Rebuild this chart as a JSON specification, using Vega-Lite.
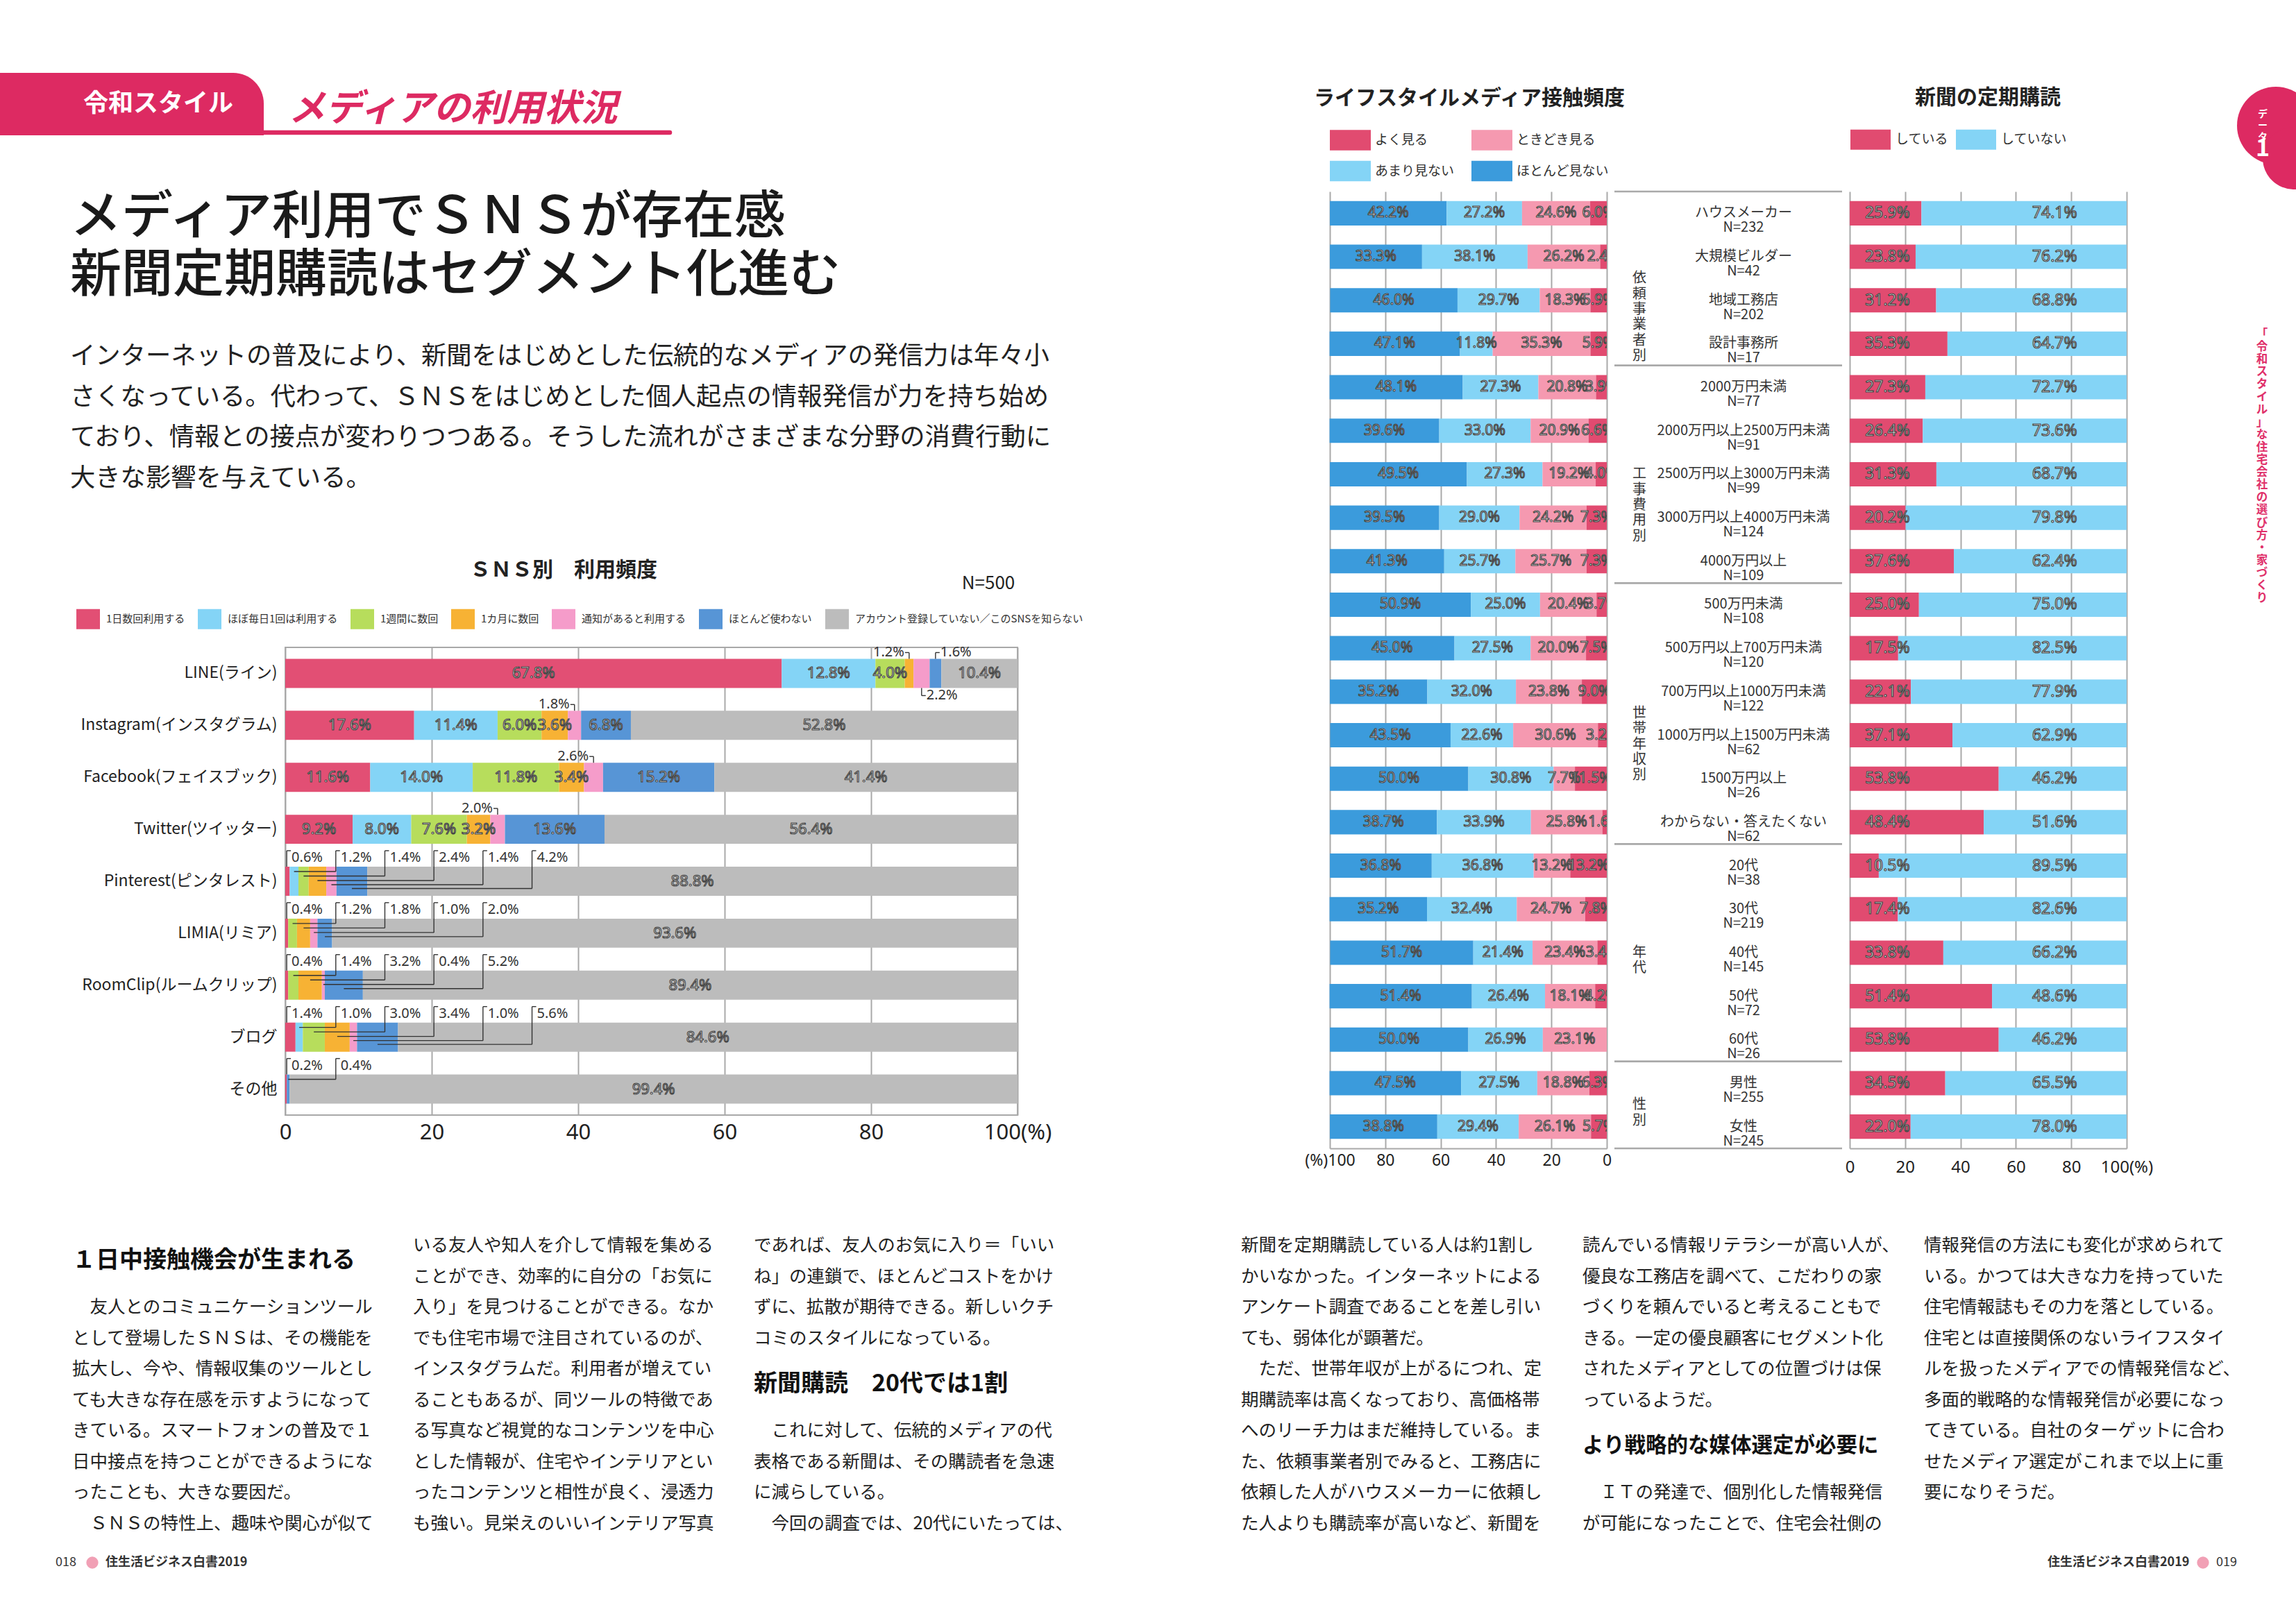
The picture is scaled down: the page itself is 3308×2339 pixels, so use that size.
{
"$schema": "https://vega.github.io/schema/vega-lite/v6.json",
"background": "white",
"padding": 0,
"autosize": {"type": "pad"},
"bounds": "flush",
"spacing": 0,
"resolve": {"scale": {"color": "independent"}, "legend": {"color": "independent"}},
"config": {
  "view": {"stroke": null},
  "font": "Noto Sans CJK JP",
  "text": {"baseline": "middle"}
},
"datasets": {
  "sns": [
    {"sns":"LINE(ライン)","cat":"1日数回利用する","value":67.8},{"sns":"LINE(ライン)","cat":"ほぼ毎日1回は利用する","value":12.8},{"sns":"LINE(ライン)","cat":"1週間に数回","value":4.0},{"sns":"LINE(ライン)","cat":"1カ月に数回","value":1.2},{"sns":"LINE(ライン)","cat":"通知があると利用する","value":2.2},{"sns":"LINE(ライン)","cat":"ほとんど使わない","value":1.6},{"sns":"LINE(ライン)","cat":"アカウント登録していない／このSNSを知らない","value":10.4},
    {"sns":"Instagram(インスタグラム)","cat":"1日数回利用する","value":17.6},{"sns":"Instagram(インスタグラム)","cat":"ほぼ毎日1回は利用する","value":11.4},{"sns":"Instagram(インスタグラム)","cat":"1週間に数回","value":6.0},{"sns":"Instagram(インスタグラム)","cat":"1カ月に数回","value":3.6},{"sns":"Instagram(インスタグラム)","cat":"通知があると利用する","value":1.8},{"sns":"Instagram(インスタグラム)","cat":"ほとんど使わない","value":6.8},{"sns":"Instagram(インスタグラム)","cat":"アカウント登録していない／このSNSを知らない","value":52.8},
    {"sns":"Facebook(フェイスブック)","cat":"1日数回利用する","value":11.6},{"sns":"Facebook(フェイスブック)","cat":"ほぼ毎日1回は利用する","value":14.0},{"sns":"Facebook(フェイスブック)","cat":"1週間に数回","value":11.8},{"sns":"Facebook(フェイスブック)","cat":"1カ月に数回","value":3.4},{"sns":"Facebook(フェイスブック)","cat":"通知があると利用する","value":2.6},{"sns":"Facebook(フェイスブック)","cat":"ほとんど使わない","value":15.2},{"sns":"Facebook(フェイスブック)","cat":"アカウント登録していない／このSNSを知らない","value":41.4},
    {"sns":"Twitter(ツイッター)","cat":"1日数回利用する","value":9.2},{"sns":"Twitter(ツイッター)","cat":"ほぼ毎日1回は利用する","value":8.0},{"sns":"Twitter(ツイッター)","cat":"1週間に数回","value":7.6},{"sns":"Twitter(ツイッター)","cat":"1カ月に数回","value":3.2},{"sns":"Twitter(ツイッター)","cat":"通知があると利用する","value":2.0},{"sns":"Twitter(ツイッター)","cat":"ほとんど使わない","value":13.6},{"sns":"Twitter(ツイッター)","cat":"アカウント登録していない／このSNSを知らない","value":56.4},
    {"sns":"Pinterest(ピンタレスト)","cat":"1日数回利用する","value":0.6},{"sns":"Pinterest(ピンタレスト)","cat":"ほぼ毎日1回は利用する","value":1.2},{"sns":"Pinterest(ピンタレスト)","cat":"1週間に数回","value":1.4},{"sns":"Pinterest(ピンタレスト)","cat":"1カ月に数回","value":2.4},{"sns":"Pinterest(ピンタレスト)","cat":"通知があると利用する","value":1.4},{"sns":"Pinterest(ピンタレスト)","cat":"ほとんど使わない","value":4.2},{"sns":"Pinterest(ピンタレスト)","cat":"アカウント登録していない／このSNSを知らない","value":88.8},
    {"sns":"LIMIA(リミア)","cat":"1日数回利用する","value":0.4},{"sns":"LIMIA(リミア)","cat":"ほぼ毎日1回は利用する","value":0},{"sns":"LIMIA(リミア)","cat":"1週間に数回","value":1.2},{"sns":"LIMIA(リミア)","cat":"1カ月に数回","value":1.8},{"sns":"LIMIA(リミア)","cat":"通知があると利用する","value":1.0},{"sns":"LIMIA(リミア)","cat":"ほとんど使わない","value":2.0},{"sns":"LIMIA(リミア)","cat":"アカウント登録していない／このSNSを知らない","value":93.6},
    {"sns":"RoomClip(ルームクリップ)","cat":"1日数回利用する","value":0.4},{"sns":"RoomClip(ルームクリップ)","cat":"ほぼ毎日1回は利用する","value":0},{"sns":"RoomClip(ルームクリップ)","cat":"1週間に数回","value":1.4},{"sns":"RoomClip(ルームクリップ)","cat":"1カ月に数回","value":3.2},{"sns":"RoomClip(ルームクリップ)","cat":"通知があると利用する","value":0.4},{"sns":"RoomClip(ルームクリップ)","cat":"ほとんど使わない","value":5.2},{"sns":"RoomClip(ルームクリップ)","cat":"アカウント登録していない／このSNSを知らない","value":89.4},
    {"sns":"ブログ","cat":"1日数回利用する","value":1.4},{"sns":"ブログ","cat":"ほぼ毎日1回は利用する","value":1.0},{"sns":"ブログ","cat":"1週間に数回","value":3.0},{"sns":"ブログ","cat":"1カ月に数回","value":3.4},{"sns":"ブログ","cat":"通知があると利用する","value":1.0},{"sns":"ブログ","cat":"ほとんど使わない","value":5.6},{"sns":"ブログ","cat":"アカウント登録していない／このSNSを知らない","value":84.6},
    {"sns":"その他","cat":"1日数回利用する","value":0.2},{"sns":"その他","cat":"ほぼ毎日1回は利用する","value":0},{"sns":"その他","cat":"1週間に数回","value":0},{"sns":"その他","cat":"1カ月に数回","value":0},{"sns":"その他","cat":"通知があると利用する","value":0},{"sns":"その他","cat":"ほとんど使わない","value":0.4},{"sns":"その他","cat":"アカウント登録していない／このSNSを知らない","value":99.4}
  ],
  "life": [
    {"seg":"ハウスメーカー","cat":"ほとんど見ない","value":42.2},{"seg":"ハウスメーカー","cat":"あまり見ない","value":27.2},{"seg":"ハウスメーカー","cat":"ときどき見る","value":24.6},{"seg":"ハウスメーカー","cat":"よく見る","value":6.0},
    {"seg":"大規模ビルダー","cat":"ほとんど見ない","value":33.3},{"seg":"大規模ビルダー","cat":"あまり見ない","value":38.1},{"seg":"大規模ビルダー","cat":"ときどき見る","value":26.2},{"seg":"大規模ビルダー","cat":"よく見る","value":2.4},
    {"seg":"地域工務店","cat":"ほとんど見ない","value":46.0},{"seg":"地域工務店","cat":"あまり見ない","value":29.7},{"seg":"地域工務店","cat":"ときどき見る","value":18.3},{"seg":"地域工務店","cat":"よく見る","value":5.9},
    {"seg":"設計事務所","cat":"ほとんど見ない","value":47.1},{"seg":"設計事務所","cat":"あまり見ない","value":11.8},{"seg":"設計事務所","cat":"ときどき見る","value":35.3},{"seg":"設計事務所","cat":"よく見る","value":5.9},
    {"seg":"2000万円未満","cat":"ほとんど見ない","value":48.1},{"seg":"2000万円未満","cat":"あまり見ない","value":27.3},{"seg":"2000万円未満","cat":"ときどき見る","value":20.8},{"seg":"2000万円未満","cat":"よく見る","value":3.9},
    {"seg":"2000万円以上2500万円未満","cat":"ほとんど見ない","value":39.6},{"seg":"2000万円以上2500万円未満","cat":"あまり見ない","value":33.0},{"seg":"2000万円以上2500万円未満","cat":"ときどき見る","value":20.9},{"seg":"2000万円以上2500万円未満","cat":"よく見る","value":6.6},
    {"seg":"2500万円以上3000万円未満","cat":"ほとんど見ない","value":49.5},{"seg":"2500万円以上3000万円未満","cat":"あまり見ない","value":27.3},{"seg":"2500万円以上3000万円未満","cat":"ときどき見る","value":19.2},{"seg":"2500万円以上3000万円未満","cat":"よく見る","value":4.0},
    {"seg":"3000万円以上4000万円未満","cat":"ほとんど見ない","value":39.5},{"seg":"3000万円以上4000万円未満","cat":"あまり見ない","value":29.0},{"seg":"3000万円以上4000万円未満","cat":"ときどき見る","value":24.2},{"seg":"3000万円以上4000万円未満","cat":"よく見る","value":7.3},
    {"seg":"4000万円以上","cat":"ほとんど見ない","value":41.3},{"seg":"4000万円以上","cat":"あまり見ない","value":25.7},{"seg":"4000万円以上","cat":"ときどき見る","value":25.7},{"seg":"4000万円以上","cat":"よく見る","value":7.3},
    {"seg":"500万円未満","cat":"ほとんど見ない","value":50.9},{"seg":"500万円未満","cat":"あまり見ない","value":25.0},{"seg":"500万円未満","cat":"ときどき見る","value":20.4},{"seg":"500万円未満","cat":"よく見る","value":3.7},
    {"seg":"500万円以上700万円未満","cat":"ほとんど見ない","value":45.0},{"seg":"500万円以上700万円未満","cat":"あまり見ない","value":27.5},{"seg":"500万円以上700万円未満","cat":"ときどき見る","value":20.0},{"seg":"500万円以上700万円未満","cat":"よく見る","value":7.5},
    {"seg":"700万円以上1000万円未満","cat":"ほとんど見ない","value":35.2},{"seg":"700万円以上1000万円未満","cat":"あまり見ない","value":32.0},{"seg":"700万円以上1000万円未満","cat":"ときどき見る","value":23.8},{"seg":"700万円以上1000万円未満","cat":"よく見る","value":9.0},
    {"seg":"1000万円以上1500万円未満","cat":"ほとんど見ない","value":43.5},{"seg":"1000万円以上1500万円未満","cat":"あまり見ない","value":22.6},{"seg":"1000万円以上1500万円未満","cat":"ときどき見る","value":30.6},{"seg":"1000万円以上1500万円未満","cat":"よく見る","value":3.2},
    {"seg":"1500万円以上","cat":"ほとんど見ない","value":50.0},{"seg":"1500万円以上","cat":"あまり見ない","value":30.8},{"seg":"1500万円以上","cat":"ときどき見る","value":7.7},{"seg":"1500万円以上","cat":"よく見る","value":11.5},
    {"seg":"わからない・答えたくない","cat":"ほとんど見ない","value":38.7},{"seg":"わからない・答えたくない","cat":"あまり見ない","value":33.9},{"seg":"わからない・答えたくない","cat":"ときどき見る","value":25.8},{"seg":"わからない・答えたくない","cat":"よく見る","value":1.6},
    {"seg":"20代","cat":"ほとんど見ない","value":36.8},{"seg":"20代","cat":"あまり見ない","value":36.8},{"seg":"20代","cat":"ときどき見る","value":13.2},{"seg":"20代","cat":"よく見る","value":13.2},
    {"seg":"30代","cat":"ほとんど見ない","value":35.2},{"seg":"30代","cat":"あまり見ない","value":32.4},{"seg":"30代","cat":"ときどき見る","value":24.7},{"seg":"30代","cat":"よく見る","value":7.8},
    {"seg":"40代","cat":"ほとんど見ない","value":51.7},{"seg":"40代","cat":"あまり見ない","value":21.4},{"seg":"40代","cat":"ときどき見る","value":23.4},{"seg":"40代","cat":"よく見る","value":3.4},
    {"seg":"50代","cat":"ほとんど見ない","value":51.4},{"seg":"50代","cat":"あまり見ない","value":26.4},{"seg":"50代","cat":"ときどき見る","value":18.1},{"seg":"50代","cat":"よく見る","value":4.2},
    {"seg":"60代","cat":"ほとんど見ない","value":50.0},{"seg":"60代","cat":"あまり見ない","value":26.9},{"seg":"60代","cat":"ときどき見る","value":23.1},{"seg":"60代","cat":"よく見る","value":0},
    {"seg":"男性","cat":"ほとんど見ない","value":47.5},{"seg":"男性","cat":"あまり見ない","value":27.5},{"seg":"男性","cat":"ときどき見る","value":18.8},{"seg":"男性","cat":"よく見る","value":6.3},
    {"seg":"女性","cat":"ほとんど見ない","value":38.8},{"seg":"女性","cat":"あまり見ない","value":29.4},{"seg":"女性","cat":"ときどき見る","value":26.1},{"seg":"女性","cat":"よく見る","value":5.7}
  ],
  "segs": [
    {"group":"依頼事業者別","seg":"ハウスメーカー","n":232},{"group":"依頼事業者別","seg":"大規模ビルダー","n":42},{"group":"依頼事業者別","seg":"地域工務店","n":202},{"group":"依頼事業者別","seg":"設計事務所","n":17},
    {"group":"工事費用別","seg":"2000万円未満","n":77},{"group":"工事費用別","seg":"2000万円以上2500万円未満","n":91},{"group":"工事費用別","seg":"2500万円以上3000万円未満","n":99},{"group":"工事費用別","seg":"3000万円以上4000万円未満","n":124},{"group":"工事費用別","seg":"4000万円以上","n":109},
    {"group":"世帯年収別","seg":"500万円未満","n":108},{"group":"世帯年収別","seg":"500万円以上700万円未満","n":120},{"group":"世帯年収別","seg":"700万円以上1000万円未満","n":122},{"group":"世帯年収別","seg":"1000万円以上1500万円未満","n":62},{"group":"世帯年収別","seg":"1500万円以上","n":26},{"group":"世帯年収別","seg":"わからない・答えたくない","n":62},
    {"group":"年代","seg":"20代","n":38},{"group":"年代","seg":"30代","n":219},{"group":"年代","seg":"40代","n":145},{"group":"年代","seg":"50代","n":72},{"group":"年代","seg":"60代","n":26},
    {"group":"性別","seg":"男性","n":255},{"group":"性別","seg":"女性","n":245}
  ],
  "paper": [
    {"seg":"ハウスメーカー","cat":"している","value":25.9},{"seg":"ハウスメーカー","cat":"していない","value":74.1},
    {"seg":"大規模ビルダー","cat":"している","value":23.8},{"seg":"大規模ビルダー","cat":"していない","value":76.2},
    {"seg":"地域工務店","cat":"している","value":31.2},{"seg":"地域工務店","cat":"していない","value":68.8},
    {"seg":"設計事務所","cat":"している","value":35.3},{"seg":"設計事務所","cat":"していない","value":64.7},
    {"seg":"2000万円未満","cat":"している","value":27.3},{"seg":"2000万円未満","cat":"していない","value":72.7},
    {"seg":"2000万円以上2500万円未満","cat":"している","value":26.4},{"seg":"2000万円以上2500万円未満","cat":"していない","value":73.6},
    {"seg":"2500万円以上3000万円未満","cat":"している","value":31.3},{"seg":"2500万円以上3000万円未満","cat":"していない","value":68.7},
    {"seg":"3000万円以上4000万円未満","cat":"している","value":20.2},{"seg":"3000万円以上4000万円未満","cat":"していない","value":79.8},
    {"seg":"4000万円以上","cat":"している","value":37.6},{"seg":"4000万円以上","cat":"していない","value":62.4},
    {"seg":"500万円未満","cat":"している","value":25.0},{"seg":"500万円未満","cat":"していない","value":75.0},
    {"seg":"500万円以上700万円未満","cat":"している","value":17.5},{"seg":"500万円以上700万円未満","cat":"していない","value":82.5},
    {"seg":"700万円以上1000万円未満","cat":"している","value":22.1},{"seg":"700万円以上1000万円未満","cat":"していない","value":77.9},
    {"seg":"1000万円以上1500万円未満","cat":"している","value":37.1},{"seg":"1000万円以上1500万円未満","cat":"していない","value":62.9},
    {"seg":"1500万円以上","cat":"している","value":53.8},{"seg":"1500万円以上","cat":"していない","value":46.2},
    {"seg":"わからない・答えたくない","cat":"している","value":48.4},{"seg":"わからない・答えたくない","cat":"していない","value":51.6},
    {"seg":"20代","cat":"している","value":10.5},{"seg":"20代","cat":"していない","value":89.5},
    {"seg":"30代","cat":"している","value":17.4},{"seg":"30代","cat":"していない","value":82.6},
    {"seg":"40代","cat":"している","value":33.8},{"seg":"40代","cat":"していない","value":66.2},
    {"seg":"50代","cat":"している","value":51.4},{"seg":"50代","cat":"していない","value":48.6},
    {"seg":"60代","cat":"している","value":53.8},{"seg":"60代","cat":"していない","value":46.2},
    {"seg":"男性","cat":"している","value":34.5},{"seg":"男性","cat":"していない","value":65.5},
    {"seg":"女性","cat":"している","value":22.0},{"seg":"女性","cat":"していない","value":78.0}
  ],
  "bodyL": [
    {"col":1,"line":0,"kind":"h","text":"１日中接触機会が生まれる"},
    {"col":1,"line":2,"kind":"p","text":"\u200b　友人とのコミュニケーションツール"},
    {"col":1,"line":3,"kind":"p","text":"として登場したＳＮＳは、その機能を"},
    {"col":1,"line":4,"kind":"p","text":"拡大し、今や、情報収集のツールとし"},
    {"col":1,"line":5,"kind":"p","text":"ても大きな存在感を示すようになって"},
    {"col":1,"line":6,"kind":"p","text":"きている。スマートフォンの普及で１"},
    {"col":1,"line":7,"kind":"p","text":"日中接点を持つことができるようにな"},
    {"col":1,"line":8,"kind":"p","text":"ったことも、大きな要因だ。"},
    {"col":1,"line":9,"kind":"p","text":"\u200b　ＳＮＳの特性上、趣味や関心が似て"},
    {"col":2,"line":0,"kind":"p","text":"いる友人や知人を介して情報を集める"},
    {"col":2,"line":1,"kind":"p","text":"ことができ、効率的に自分の「お気に"},
    {"col":2,"line":2,"kind":"p","text":"入り」を見つけることができる。なか"},
    {"col":2,"line":3,"kind":"p","text":"でも住宅市場で注目されているのが、"},
    {"col":2,"line":4,"kind":"p","text":"インスタグラムだ。利用者が増えてい"},
    {"col":2,"line":5,"kind":"p","text":"ることもあるが、同ツールの特徴であ"},
    {"col":2,"line":6,"kind":"p","text":"る写真など視覚的なコンテンツを中心"},
    {"col":2,"line":7,"kind":"p","text":"とした情報が、住宅やインテリアとい"},
    {"col":2,"line":8,"kind":"p","text":"ったコンテンツと相性が良く、浸透力"},
    {"col":2,"line":9,"kind":"p","text":"も強い。見栄えのいいインテリア写真"},
    {"col":3,"line":0,"kind":"p","text":"であれば、友人のお気に入り＝「いい"},
    {"col":3,"line":1,"kind":"p","text":"ね」の連鎖で、ほとんどコストをかけ"},
    {"col":3,"line":2,"kind":"p","text":"ずに、拡散が期待できる。新しいクチ"},
    {"col":3,"line":3,"kind":"p","text":"コミのスタイルになっている。"},
    {"col":3,"line":4,"kind":"h","text":"新聞購読　20代では1割"},
    {"col":3,"line":6,"kind":"p","text":"\u200b　これに対して、伝統的メディアの代"},
    {"col":3,"line":7,"kind":"p","text":"表格である新聞は、その購読者を急速"},
    {"col":3,"line":8,"kind":"p","text":"に減らしている。"},
    {"col":3,"line":9,"kind":"p","text":"\u200b　今回の調査では、20代にいたっては、"}
  ],
  "bodyR": [
    {"col":1,"line":0,"kind":"p","text":"新聞を定期購読している人は約1割し"},
    {"col":1,"line":1,"kind":"p","text":"かいなかった。インターネットによる"},
    {"col":1,"line":2,"kind":"p","text":"アンケート調査であることを差し引い"},
    {"col":1,"line":3,"kind":"p","text":"ても、弱体化が顕著だ。"},
    {"col":1,"line":4,"kind":"p","text":"\u200b　ただ、世帯年収が上がるにつれ、定"},
    {"col":1,"line":5,"kind":"p","text":"期購読率は高くなっており、高価格帯"},
    {"col":1,"line":6,"kind":"p","text":"へのリーチ力はまだ維持している。ま"},
    {"col":1,"line":7,"kind":"p","text":"た、依頼事業者別でみると、工務店に"},
    {"col":1,"line":8,"kind":"p","text":"依頼した人がハウスメーカーに依頼し"},
    {"col":1,"line":9,"kind":"p","text":"た人よりも購読率が高いなど、新聞を"},
    {"col":2,"line":0,"kind":"p","text":"読んでいる情報リテラシーが高い人が、"},
    {"col":2,"line":1,"kind":"p","text":"優良な工務店を調べて、こだわりの家"},
    {"col":2,"line":2,"kind":"p","text":"づくりを頼んでいると考えることもで"},
    {"col":2,"line":3,"kind":"p","text":"きる。一定の優良顧客にセグメント化"},
    {"col":2,"line":4,"kind":"p","text":"されたメディアとしての位置づけは保"},
    {"col":2,"line":5,"kind":"p","text":"っているようだ。"},
    {"col":2,"line":6,"kind":"h","text":"より戦略的な媒体選定が必要に"},
    {"col":2,"line":8,"kind":"p","text":"\u200b　ＩＴの発達で、個別化した情報発信"},
    {"col":2,"line":9,"kind":"p","text":"が可能になったことで、住宅会社側の"},
    {"col":3,"line":0,"kind":"p","text":"情報発信の方法にも変化が求められて"},
    {"col":3,"line":1,"kind":"p","text":"いる。かつては大きな力を持っていた"},
    {"col":3,"line":2,"kind":"p","text":"住宅情報誌もその力を落としている。"},
    {"col":3,"line":3,"kind":"p","text":"住宅とは直接関係のないライフスタイ"},
    {"col":3,"line":4,"kind":"p","text":"ルを扱ったメディアでの情報発信など、"},
    {"col":3,"line":5,"kind":"p","text":"多面的戦略的な情報発信が必要になっ"},
    {"col":3,"line":6,"kind":"p","text":"てきている。自社のターゲットに合わ"},
    {"col":3,"line":7,"kind":"p","text":"せたメディア選定がこれまで以上に重"},
    {"col":3,"line":8,"kind":"p","text":"要になりそうだ。"}
  ]
},
"hconcat": [
  {"bounds":"flush","spacing":0,"vconcat":[
    {"width":1,"height":105,"data":{"values":[]},"mark":"point","encoding":{}},
    {"width":380,"height":90,"data":{"values":[{"t":"令和スタイル"}]},"layer":[
      {"mark":{"type":"rect","color":"#dd2a62","cornerRadiusTopRight":44},"encoding":{}},
      {"mark":{"type":"text","color":"white","fontSize":36,"fontWeight":"bold","dx":38},"encoding":{"text":{"field":"t"}}}
    ]}
  ]},
  {"bounds":"flush","spacing":0,"vconcat":[
    {"width":1,"height":105,"data":{"values":[]},"mark":"point","encoding":{}},
    {"bounds":"flush","spacing":0,"hconcat":[
      {"width":380,"height":1,"data":{"values":[]},"mark":"point","encoding":{}},
      {"width":585,"height":86,"data":{"values":[{"t":"メディアの利用状況"}]},"layer":[
        {"mark":{"type":"rule","color":"#dd2a62","strokeWidth":6.5,"strokeCap":"round"},"encoding":{"y":{"datum":0,"type":"quantitative","scale":{"domain":[0,1]},"axis":null}}},
        {"mark":{"type":"text","color":"#dd2a62","fontSize":53,"fontWeight":"bold","fontStyle":"italic","dx":-20,"dy":10},"encoding":{"text":{"field":"t"}}}
      ]}
    ]}
  ]},
  {"bounds":"flush","spacing":0,"vconcat":[
    {"width":1,"height":272,"data":{"values":[]},"mark":"point","encoding":{}},
    {"bounds":"flush","spacing":0,"hconcat":[
      {"width":100,"height":1,"data":{"values":[]},"mark":"point","encoding":{}},
      {"width":2,"height":168,"data":{"values":[{"line":1,"text":"メディア利用でＳＮＳが存在感"},{"line":2,"text":"新聞定期購読はセグメント化進む"}]},
       "mark":{"type":"text","align":"left","fontSize":74,"fontWeight":500,"color":"#1a1a1a"},
       "encoding":{"y":{"field":"line","type":"ordinal","axis":null},"text":{"field":"text"}}}
    ]}
  ]},
  {"bounds":"flush","spacing":0,"vconcat":[
    {"width":1,"height":485,"data":{"values":[]},"mark":"point","encoding":{}},
    {"bounds":"flush","spacing":0,"hconcat":[
      {"width":100,"height":1,"data":{"values":[]},"mark":"point","encoding":{}},
      {"width":2,"height":234,"data":{"values":[
        {"line":1,"text":"インターネットの普及により、新聞をはじめとした伝統的なメディアの発信力は年々小"},
        {"line":2,"text":"さくなっている。代わって、ＳＮＳをはじめとした個人起点の情報発信が力を持ち始め"},
        {"line":3,"text":"ており、情報との接点が変わりつつある。そうした流れがさまざまな分野の消費行動に"},
        {"line":4,"text":"大きな影響を与えている。"}]},
       "mark":{"type":"text","align":"left","fontSize":36.3,"color":"#222"},
       "encoding":{"y":{"field":"line","type":"ordinal","axis":null},"text":{"field":"text"}}}
    ]}
  ]},
  {"bounds":"flush","spacing":0,"vconcat":[
    {"width":1,"height":821,"data":{"values":[]},"mark":"point","encoding":{}},
    {"bounds":"flush","spacing":0,"hconcat":[
      {"width":811,"height":1,"data":{"values":[]},"mark":"point","encoding":{}},
      {"width":2,"height":2,"data":{"values":[{"t":"ＳＮＳ別　利用頻度"}]},"mark":{"type":"text","fontSize":30,"fontWeight":"bold","color":"#222"},"encoding":{"text":{"field":"t"}}}
    ]}
  ]},
  {"bounds":"flush","spacing":0,"vconcat":[
    {"width":1,"height":840,"data":{"values":[]},"mark":"point","encoding":{}},
    {"bounds":"flush","spacing":0,"hconcat":[
      {"width":1423,"height":1,"data":{"values":[]},"mark":"point","encoding":{}},
      {"width":2,"height":2,"data":{"values":[{"t":"N=500"}]},"mark":{"type":"text","fontSize":26,"color":"#222"},"encoding":{"text":{"field":"t"}}}
    ]}
  ]},
  {"bounds":"flush","spacing":0,"resolve":{"scale":{"color":"independent"},"legend":{"color":"independent"}},"vconcat":[
    {"width":1,"height":933,"data":{"values":[]},"mark":"point","encoding":{}},
    {"bounds":"flush","spacing":0,"resolve":{"scale":{"color":"independent"},"legend":{"color":"independent"}},"hconcat":[
      {"width":411,"height":1,"data":{"values":[]},"mark":"point","encoding":{}},
      {"width":1055,"height":674,
       "view":{"stroke":"#a9a9a9","strokeWidth":2},
       "data":{"name":"sns"},
       "transform":[
         {"calculate":"indexof(['1日数回利用する','ほぼ毎日1回は利用する','1週間に数回','1カ月に数回','通知があると利用する','ほとんど使わない','アカウント登録していない／このSNSを知らない'], datum.cat)","as":"ord"},
         {"calculate":"indexof(['LINE(ライン)','Instagram(インスタグラム)','Facebook(フェイスブック)','Twitter(ツイッター)'], datum.sns) >= 0","as":"big4"},
         {"stack":"value","groupby":["sns"],"sort":[{"field":"ord","order":"ascending"}],"as":["x0","x1"]},
         {"calculate":"(datum.x0 + datum.x1) / 2","as":"mid"},
         {"calculate":"format(datum.value, '.1f') + '%'","as":"lbl"}
       ],
       "encoding":{"y":{"field":"sns","type":"nominal","scale":{"domain":["LINE(ライン)","Instagram(インスタグラム)","Facebook(フェイスブック)","Twitter(ツイッター)","Pinterest(ピンタレスト)","LIMIA(リミア)","RoomClip(ルームクリップ)","ブログ","その他"],"paddingInner":0.44,"paddingOuter":0.22},
         "axis":{"title":null,"ticks":false,"domain":false,"labelFontSize":23,"labelColor":"#222","labelPadding":12,"labelLimit":500}}},
       "layer":[
         {"mark":{"type":"bar"},"encoding":{
           "x":{"field":"x0","type":"quantitative","scale":{"domain":[0,100],"nice":false},
             "axis":{"title":null,"values":[0,20,40,60,80,100],"grid":true,"gridColor":"#a9a9a9","gridWidth":2,"ticks":false,"domain":false,"labelFontSize":31,"labelFont":"Noto Sans","labelColor":"#222","labelPadding":10,"labelOverlap":false,"labelFlush":false,"labelExpr":"datum.value == 100 ? '100(%)' : datum.label"}},
           "x2":{"field":"x1"},
           "color":{"field":"cat","type":"nominal",
             "scale":{"domain":["1日数回利用する","ほぼ毎日1回は利用する","1週間に数回","1カ月に数回","通知があると利用する","ほとんど使わない","アカウント登録していない／このSNSを知らない"],"range":["#e24f74","#84d4f6","#b7dd5c","#f7b234","#f59cca","#5795d6","#bcbcbc"]},
             "legend":{"orient":"none","legendX":-301,"legendY":-58,"direction":"horizontal","title":null,"symbolType":"M-1,-0.853H1V0.853H-1Z","symbolSize":1156,"symbolStrokeWidth":0,"labelFontSize":15,"labelColor":"#333","labelLimit":600,"columnPadding":18,"labelOffset":9,"padding":0}}
         }},
         {"transform":[{"filter":"datum.value >= 3 && (datum.big4 || datum.ord == 6)"}],
          "mark":{"type":"text","color":"white","stroke":"#444","strokeWidth":1.2,"fontSize":22,"font":"Noto Sans"},
          "encoding":{"x":{"field":"mid","type":"quantitative"},"text":{"field":"lbl"}}},
         {"transform":[{"filter":"datum.big4 && datum.value < 3 && !(datum.sns == 'LINE(ライン)' && datum.ord >= 4)"}],
          "layer":[
            {"mark":{"type":"text","align":"right","dx":-7,"dy":-30,"fontSize":20,"color":"#333","font":"Noto Sans"},"encoding":{"x":{"field":"mid","type":"quantitative"},"text":{"field":"lbl"}}},
            {"mark":{"type":"rule","color":"#333","strokeWidth":1.4,"yOffset":-30,"y2Offset":-21},"encoding":{"x":{"field":"mid","type":"quantitative"},"y2":{"field":"sns"}}},
            {"mark":{"type":"rule","color":"#333","strokeWidth":1.4,"xOffset":-6,"yOffset":-30},"encoding":{"x":{"field":"mid","type":"quantitative"},"x2":{"field":"mid"}}}
          ]},
         {"transform":[{"filter":"datum.sns == 'LINE(ライン)' && datum.ord == 5"}],
          "layer":[
            {"mark":{"type":"text","align":"left","dx":7,"dy":-30,"fontSize":20,"color":"#333","font":"Noto Sans"},"encoding":{"x":{"field":"mid","type":"quantitative"},"text":{"field":"lbl"}}},
            {"mark":{"type":"rule","color":"#333","strokeWidth":1.4,"yOffset":-30,"y2Offset":-21},"encoding":{"x":{"field":"mid","type":"quantitative"},"y2":{"field":"sns"}}},
            {"mark":{"type":"rule","color":"#333","strokeWidth":1.4,"x2Offset":6,"yOffset":-30},"encoding":{"x":{"field":"mid","type":"quantitative"},"x2":{"field":"mid"}}}
          ]},
         {"transform":[{"filter":"datum.sns == 'LINE(ライン)' && datum.ord == 4"}],
          "layer":[
            {"mark":{"type":"text","align":"left","dx":7,"dy":32,"fontSize":20,"color":"#333","font":"Noto Sans"},"encoding":{"x":{"field":"mid","type":"quantitative"},"text":{"field":"lbl"}}},
            {"mark":{"type":"rule","color":"#333","strokeWidth":1.4,"yOffset":21,"y2Offset":32},"encoding":{"x":{"field":"mid","type":"quantitative"},"y2":{"field":"sns"}}},
            {"mark":{"type":"rule","color":"#333","strokeWidth":1.4,"x2Offset":6,"yOffset":32},"encoding":{"x":{"field":"mid","type":"quantitative"},"x2":{"field":"mid"}}}
          ]},
         {"transform":[
            {"filter":"!datum.big4 && datum.ord < 6 && datum.value > 0"},
            {"window":[{"op":"row_number","as":"rn"}],"groupby":["sns"],"sort":[{"field":"ord","order":"ascending"}]},
            {"calculate":"0.2 + 6.7 * (datum.rn - 1)","as":"sx"}
          ],
          "layer":[
            {"mark":{"type":"text","align":"left","dx":7,"dy":-34,"fontSize":20,"color":"#333","font":"Noto Sans"},"encoding":{"x":{"field":"sx","type":"quantitative"},"text":{"field":"lbl"}}},
            {"mark":{"type":"rule","color":"#333","strokeWidth":1.4,"x2Offset":6,"yOffset":-44},"encoding":{"x":{"field":"sx","type":"quantitative"},"x2":{"field":"sx"}}},
            {"transform":[{"filter":"datum.rn == 1"}],"mark":{"type":"rule","color":"#333","strokeWidth":1.4,"yOffset":-44,"y2Offset":-21},"encoding":{"x":{"field":"sx","type":"quantitative"},"y2":{"field":"sns"}}},
            {"transform":[{"filter":"datum.rn == 2"}],"layer":[
              {"mark":{"type":"rule","color":"#333","strokeWidth":1.4,"yOffset":-44,"y2Offset":-14},"encoding":{"x":{"field":"sx","type":"quantitative"},"y2":{"field":"sns"}}},
              {"mark":{"type":"rule","color":"#333","strokeWidth":1.4,"yOffset":-14},"encoding":{"x":{"field":"sx","type":"quantitative"},"x2":{"field":"mid"}}}]},
            {"transform":[{"filter":"datum.rn == 3"}],"layer":[
              {"mark":{"type":"rule","color":"#333","strokeWidth":1.4,"yOffset":-44,"y2Offset":-7.5},"encoding":{"x":{"field":"sx","type":"quantitative"},"y2":{"field":"sns"}}},
              {"mark":{"type":"rule","color":"#333","strokeWidth":1.4,"yOffset":-7.5},"encoding":{"x":{"field":"sx","type":"quantitative"},"x2":{"field":"mid"}}}]},
            {"transform":[{"filter":"datum.rn == 4"}],"layer":[
              {"mark":{"type":"rule","color":"#333","strokeWidth":1.4,"yOffset":-44,"y2Offset":-1},"encoding":{"x":{"field":"sx","type":"quantitative"},"y2":{"field":"sns"}}},
              {"mark":{"type":"rule","color":"#333","strokeWidth":1.4,"yOffset":-1},"encoding":{"x":{"field":"sx","type":"quantitative"},"x2":{"field":"mid"}}}]},
            {"transform":[{"filter":"datum.rn == 5"}],"layer":[
              {"mark":{"type":"rule","color":"#333","strokeWidth":1.4,"yOffset":-44,"y2Offset":5},"encoding":{"x":{"field":"sx","type":"quantitative"},"y2":{"field":"sns"}}},
              {"mark":{"type":"rule","color":"#333","strokeWidth":1.4,"yOffset":5},"encoding":{"x":{"field":"sx","type":"quantitative"},"x2":{"field":"mid"}}}]},
            {"transform":[{"filter":"datum.rn == 6"}],"layer":[
              {"mark":{"type":"rule","color":"#333","strokeWidth":1.4,"yOffset":-44,"y2Offset":10.5},"encoding":{"x":{"field":"sx","type":"quantitative"},"y2":{"field":"sns"}}},
              {"mark":{"type":"rule","color":"#333","strokeWidth":1.4,"yOffset":10.5},"encoding":{"x":{"field":"sx","type":"quantitative"},"x2":{"field":"mid"}}}]}
          ]}
       ]}
    ]}
  ]},
  {"bounds":"flush","spacing":0,"vconcat":[
    {"width":1,"height":1773,"data":{"values":[]},"mark":"point","encoding":{}},
    {"bounds":"flush","spacing":0,"hconcat":[
      {"width":104,"height":1,"data":{"values":[]},"mark":"point","encoding":{}},
      {"width":982,"height":445,"data":{"name":"bodyL"},
       "encoding":{"x":{"field":"col","type":"quantitative","scale":{"domain":[1,3],"nice":false,"zero":false},"axis":null},
                   "y":{"field":"line","type":"ordinal","scale":{"domain":[0,1,2,3,4,5,6,7,8,9]},"axis":null},
                   "text":{"field":"text"}},
       "layer":[
         {"transform":[{"filter":"datum.kind == 'p'"}],"mark":{"type":"text","align":"left","fontSize":25.5,"color":"#222"}},
         {"transform":[{"filter":"datum.kind == 'h'"}],"mark":{"type":"text","align":"left","fontSize":34,"fontWeight":"bold","color":"#111","dy":22}}
       ]}
    ]}
  ]},
  {"bounds":"flush","spacing":0,"vconcat":[
    {"width":1,"height":2251,"data":{"values":[]},"mark":"point","encoding":{}},
    {"bounds":"flush","spacing":0,"hconcat":[
      {"width":79,"height":1,"data":{"values":[]},"mark":"point","encoding":{}},
      {"width":2,"height":2,"data":{"values":[{"t":"018"}]},"mark":{"type":"text","align":"left","fontSize":18,"color":"#333"},"encoding":{"text":{"field":"t"}}}
    ]}
  ]},
  {"bounds":"flush","spacing":0,"vconcat":[
    {"width":1,"height":2251,"data":{"values":[]},"mark":"point","encoding":{}},
    {"bounds":"flush","spacing":0,"hconcat":[
      {"width":132,"height":1,"data":{"values":[]},"mark":"point","encoding":{}},
      {"width":2,"height":2,"data":{"values":[{"t":"●"}]},"mark":{"type":"point","filled":true,"size":300,"color":"#f1a0b5","opacity":1},"encoding":{}}
    ]}
  ]},
  {"bounds":"flush","spacing":0,"vconcat":[
    {"width":1,"height":2251,"data":{"values":[]},"mark":"point","encoding":{}},
    {"bounds":"flush","spacing":0,"hconcat":[
      {"width":151,"height":1,"data":{"values":[]},"mark":"point","encoding":{}},
      {"width":2,"height":2,"data":{"values":[{"t":"住生活ビジネス白書2019"}]},"mark":{"type":"text","align":"left","fontSize":18,"fontWeight":"bold","color":"#333"},"encoding":{"text":{"field":"t"}}}
    ]}
  ]},
  {"bounds":"flush","spacing":0,"vconcat":[
    {"width":1,"height":141,"data":{"values":[]},"mark":"point","encoding":{}},
    {"bounds":"flush","spacing":0,"hconcat":[
      {"width":1892,"height":1,"data":{"values":[]},"mark":"point","encoding":{}},
      {"width":2,"height":2,"data":{"values":[{"t":"ライフスタイルメディア接触頻度"}]},"mark":{"type":"text","align":"left","fontSize":30,"fontWeight":"bold","color":"#222"},"encoding":{"text":{"field":"t"}}}
    ]}
  ]},
  {"bounds":"flush","spacing":0,"vconcat":[
    {"width":1,"height":140,"data":{"values":[]},"mark":"point","encoding":{}},
    {"bounds":"flush","spacing":0,"hconcat":[
      {"width":2863,"height":1,"data":{"values":[]},"mark":"point","encoding":{}},
      {"width":2,"height":2,"data":{"values":[{"t":"新聞の定期購読"}]},"mark":{"type":"text","fontSize":30,"fontWeight":"bold","color":"#222"},"encoding":{"text":{"field":"t"}}}
    ]}
  ]},
  {"bounds":"flush","spacing":0,"resolve":{"scale":{"color":"independent"},"legend":{"color":"independent"}},"vconcat":[
    {"width":1,"height":276,"data":{"values":[]},"mark":"point","encoding":{}},
    {"bounds":"flush","spacing":0,"resolve":{"scale":{"color":"independent"},"legend":{"color":"independent"}},"hconcat":[
      {"width":1916,"height":1,"data":{"values":[]},"mark":"point","encoding":{}},
      {"width":399,"height":1379,"data":{"name":"life"},
       "transform":[
         {"calculate":"indexof(['よく見る','ときどき見る','あまり見ない','ほとんど見ない'], datum.cat)","as":"ord"},
         {"stack":"value","groupby":["seg"],"sort":[{"field":"ord","order":"ascending"}],"as":["x0","x1"]},
         {"calculate":"(datum.x0 + datum.x1) / 2","as":"mid"},
         {"calculate":"format(datum.value, '.1f') + '%'","as":"lbl"}
       ],
       "encoding":{"y":{"field":"seg","type":"nominal","scale":{"domain":["ハウスメーカー","大規模ビルダー","地域工務店","設計事務所","2000万円未満","2000万円以上2500万円未満","2500万円以上3000万円未満","3000万円以上4000万円未満","4000万円以上","500万円未満","500万円以上700万円未満","700万円以上1000万円未満","1000万円以上1500万円未満","1500万円以上","わからない・答えたくない","20代","30代","40代","50代","60代","男性","女性"],"paddingInner":0.44,"paddingOuter":0.22},"axis":null}},
       "layer":[
         {"mark":{"type":"bar"},"encoding":{
           "x":{"field":"x0","type":"quantitative","scale":{"domain":[0,100],"reverse":true,"nice":false},
             "axis":{"title":null,"values":[0,20,40,60,80,100],"grid":true,"gridColor":"#a9a9a9","gridWidth":2,"domain":true,"domainColor":"#a9a9a9","domainWidth":2,"ticks":false,"labelFontSize":23,"labelFont":"Noto Sans","labelColor":"#222","labelPadding":6,"labelOverlap":false,"labelFlush":false,"labelExpr":"datum.value == 100 ? '(%)100' : datum.label"}},
           "x2":{"field":"x1"},
           "color":{"field":"cat","type":"nominal","scale":{"domain":["よく見る","ときどき見る","あまり見ない","ほとんど見ない"],"range":["#e14b70","#f599b0","#84d4f6","#3b9bdc"]},
             "legend":{"orient":"none","legendX":0,"legendY":-104,"columns":2,"direction":"horizontal","title":null,"symbolType":"M-1,-0.5H1V0.5H-1Z","symbolSize":3481,"symbolStrokeWidth":0,"labelFontSize":19,"labelColor":"#333","labelOffset":6,"columnPadding":24,"rowPadding":-30,"padding":0,"labelLimit":300}}
         }},
         {"transform":[{"filter":"datum.value > 0"}],
          "mark":{"type":"text","clip":true,"color":"white","stroke":"#444","strokeWidth":1.2,"fontSize":21,"font":"Noto Sans"},
          "encoding":{"x":{"field":"mid","type":"quantitative"},"text":{"field":"lbl"}}}
       ]}
    ]}
  ]},
  {"bounds":"flush","spacing":0,"vconcat":[
    {"width":1,"height":276,"data":{"values":[]},"mark":"point","encoding":{}},
    {"bounds":"flush","spacing":0,"hconcat":[
      {"width":2326,"height":1,"data":{"values":[]},"mark":"point","encoding":{}},
      {"width":328,"height":1379,"data":{"name":"segs"},
       "transform":[{"window":[{"op":"row_number","as":"rn"}]}],
       "layer":[
         {"transform":[{"calculate":"[datum.seg, 'N=' + datum.n]","as":"txt"}],
          "mark":{"type":"text","fontSize":20,"lineHeight":21,"color":"#333","dx":22},
          "encoding":{"y":{"field":"rn","type":"quantitative","scale":{"domain":[0.5,22.5],"reverse":true,"nice":false,"zero":false},"axis":null},"text":{"field":"txt"}}},
         {"transform":[
            {"aggregate":[{"op":"mean","field":"rn","as":"c"},{"op":"min","field":"rn","as":"lo"},{"op":"max","field":"rn","as":"hi"}],"groupby":["group"]},
            {"calculate":"split(datum.group, '')","as":"chars"},
            {"calculate":"datum.lo - 0.5","as":"b0"},
            {"calculate":"datum.hi + 0.5","as":"b1"}
          ],
          "layer":[
            {"mark":{"type":"text","fontSize":20,"lineHeight":22.3,"color":"#333","dx":-128},
             "encoding":{"y":{"field":"c","type":"quantitative","scale":{"domain":[0.5,22.5],"reverse":true,"nice":false,"zero":false},"axis":null},"text":{"field":"chars"}}},
            {"mark":{"type":"rule","color":"#a9a9a9","strokeWidth":2.5},
             "encoding":{"y":{"field":"b0","type":"quantitative","scale":{"domain":[0.5,22.5],"reverse":true,"nice":false,"zero":false},"axis":null}}},
            {"mark":{"type":"rule","color":"#a9a9a9","strokeWidth":2.5},
             "encoding":{"y":{"field":"b1","type":"quantitative","scale":{"domain":[0.5,22.5],"reverse":true,"nice":false,"zero":false},"axis":null}}}
          ]}
       ]}
    ]}
  ]},
  {"bounds":"flush","spacing":0,"resolve":{"scale":{"color":"independent"},"legend":{"color":"independent"}},"vconcat":[
    {"width":1,"height":276,"data":{"values":[]},"mark":"point","encoding":{}},
    {"bounds":"flush","spacing":0,"resolve":{"scale":{"color":"independent"},"legend":{"color":"independent"}},"hconcat":[
      {"width":2665,"height":1,"data":{"values":[]},"mark":"point","encoding":{}},
      {"width":399,"height":1379,"data":{"name":"paper"},
       "transform":[
         {"calculate":"indexof(['している','していない'], datum.cat)","as":"ord"},
         {"stack":"value","groupby":["seg"],"sort":[{"field":"ord","order":"ascending"}],"as":["x0","x1"]},
         {"calculate":"format(datum.value, '.1f') + '%'","as":"lbl"}
       ],
       "encoding":{"y":{"field":"seg","type":"nominal","scale":{"domain":["ハウスメーカー","大規模ビルダー","地域工務店","設計事務所","2000万円未満","2000万円以上2500万円未満","2500万円以上3000万円未満","3000万円以上4000万円未満","4000万円以上","500万円未満","500万円以上700万円未満","700万円以上1000万円未満","1000万円以上1500万円未満","1500万円以上","わからない・答えたくない","20代","30代","40代","50代","60代","男性","女性"],"paddingInner":0.44,"paddingOuter":0.22},"axis":null}},
       "layer":[
         {"mark":{"type":"bar"},"encoding":{
           "x":{"field":"x0","type":"quantitative","scale":{"domain":[0,100],"nice":false},
             "axis":{"title":null,"values":[0,20,40,60,80,100],"grid":true,"gridColor":"#a9a9a9","gridWidth":2,"domain":true,"domainColor":"#a9a9a9","domainWidth":2,"ticks":false,"labelFontSize":24,"labelFont":"Noto Sans","labelColor":"#222","labelPadding":15,"labelOverlap":false,"labelFlush":false,"labelExpr":"datum.value == 100 ? '100(%)' : datum.label"}},
           "x2":{"field":"x1"},
           "color":{"field":"cat","type":"nominal","scale":{"domain":["している","していない"],"range":["#e14b70","#84d4f6"]},
             "legend":{"orient":"none","legendX":1,"legendY":-104,"direction":"horizontal","title":null,"symbolType":"M-1,-0.5H1V0.5H-1Z","symbolSize":3364,"symbolStrokeWidth":0,"labelFontSize":19,"labelColor":"#333","labelOffset":7,"columnPadding":10,"padding":0,"labelLimit":300}}
         }},
         {"transform":[{"filter":"datum.ord == 0"}],
          "mark":{"type":"text","color":"white","stroke":"#444","strokeWidth":1.2,"fontSize":23,"font":"Noto Sans"},
          "encoding":{"x":{"datum":13.6,"type":"quantitative"},"text":{"field":"lbl"}}},
         {"transform":[{"filter":"datum.ord == 1"}],
          "mark":{"type":"text","color":"white","stroke":"#444","strokeWidth":1.2,"fontSize":23,"font":"Noto Sans"},
          "encoding":{"x":{"datum":74,"type":"quantitative"},"text":{"field":"lbl"}}}
       ]}
    ]}
  ]},
  {"bounds":"flush","spacing":0,"vconcat":[
    {"width":1,"height":1773,"data":{"values":[]},"mark":"point","encoding":{}},
    {"bounds":"flush","spacing":0,"hconcat":[
      {"width":1788,"height":1,"data":{"values":[]},"mark":"point","encoding":{}},
      {"width":984,"height":445,"data":{"name":"bodyR"},
       "encoding":{"x":{"field":"col","type":"quantitative","scale":{"domain":[1,3],"nice":false,"zero":false},"axis":null},
                   "y":{"field":"line","type":"ordinal","scale":{"domain":[0,1,2,3,4,5,6,7,8,9]},"axis":null},
                   "text":{"field":"text"}},
       "layer":[
         {"transform":[{"filter":"datum.kind == 'p'"}],"mark":{"type":"text","align":"left","fontSize":25.5,"color":"#222"}},
         {"transform":[{"filter":"datum.kind == 'h'"}],"mark":{"type":"text","align":"left","fontSize":30.5,"fontWeight":"bold","color":"#111","dy":22}}
       ]}
    ]}
  ]},
  {"bounds":"flush","spacing":0,"vconcat":[
    {"width":1,"height":2251,"data":{"values":[]},"mark":"point","encoding":{}},
    {"bounds":"flush","spacing":0,"hconcat":[
      {"width":2949,"height":1,"data":{"values":[]},"mark":"point","encoding":{}},
      {"width":2,"height":2,"data":{"values":[{"t":"住生活ビジネス白書2019"}]},"mark":{"type":"text","align":"left","fontSize":18,"fontWeight":"bold","color":"#333"},"encoding":{"text":{"field":"t"}}}
    ]}
  ]},
  {"bounds":"flush","spacing":0,"vconcat":[
    {"width":1,"height":2251,"data":{"values":[]},"mark":"point","encoding":{}},
    {"bounds":"flush","spacing":0,"hconcat":[
      {"width":3173,"height":1,"data":{"values":[]},"mark":"point","encoding":{}},
      {"width":2,"height":2,"data":{"values":[{"t":"●"}]},"mark":{"type":"point","filled":true,"size":300,"color":"#f1a0b5","opacity":1},"encoding":{}}
    ]}
  ]},
  {"bounds":"flush","spacing":0,"vconcat":[
    {"width":1,"height":2251,"data":{"values":[]},"mark":"point","encoding":{}},
    {"bounds":"flush","spacing":0,"hconcat":[
      {"width":3192,"height":1,"data":{"values":[]},"mark":"point","encoding":{}},
      {"width":2,"height":2,"data":{"values":[{"t":"019"}]},"mark":{"type":"text","align":"left","fontSize":18,"color":"#333"},"encoding":{"text":{"field":"t"}}}
    ]}
  ]},
  {"bounds":"flush","spacing":0,"vconcat":[
    {"width":1,"height":180,"data":{"values":[]},"mark":"point","encoding":{}},
    {"bounds":"flush","spacing":0,"hconcat":[
      {"width":3278,"height":1,"data":{"values":[]},"mark":"point","encoding":{}},
      {"width":2,"height":2,"data":{"values":[{"a":"データ","b":"1"}]},"layer":[
        {"mark":{"type":"point","filled":true,"size":12544,"color":"#dd2a62","opacity":1},"encoding":{}},
        {"mark":{"type":"point","filled":true,"size":8100,"color":"#dd2a62","opacity":1,"xOffset":26,"yOffset":47},"encoding":{}},
        {"transform":[{"calculate":"split(datum.a, '')","as":"ac"}],"mark":{"type":"text","color":"white","fontSize":14,"lineHeight":16.3,"fontWeight":"bold","dx":-19,"dy":-16},"encoding":{"text":{"field":"ac"}}},
        {"mark":{"type":"text","color":"white","fontSize":34,"fontWeight":"bold","dx":-19,"dy":34},"encoding":{"text":{"field":"b"}}}
      ]}
    ]}
  ]},
  {"bounds":"flush","spacing":0,"vconcat":[
    {"width":1,"height":481,"data":{"values":[]},"mark":"point","encoding":{}},
    {"bounds":"flush","spacing":0,"hconcat":[
      {"width":3258,"height":1,"data":{"values":[]},"mark":"point","encoding":{}},
      {"width":2,"height":2,"data":{"values":[{"t":"「令和スタイル」な住宅会社の選び方・家づくり"}]},
       "transform":[{"calculate":"split(datum.t, '')","as":"tc"}],
       "mark":{"type":"text","color":"#e0306a","fontSize":16.5,"fontWeight":"bold","lineHeight":18.1},"encoding":{"text":{"field":"tc"}}}
    ]}
  ]}
]
}
